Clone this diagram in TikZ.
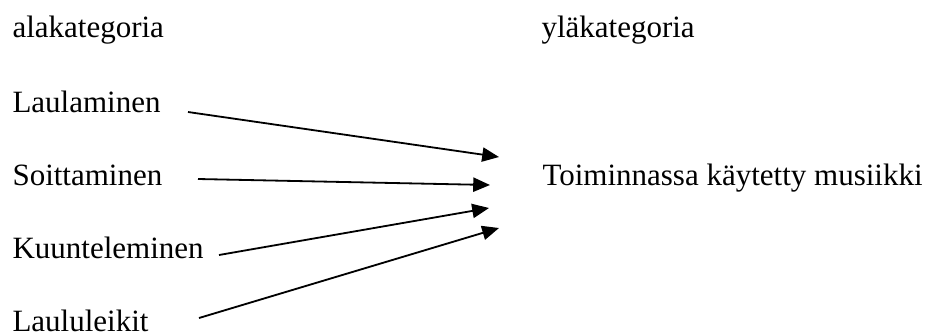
\documentclass[tikz,border=0pt]{standalone}
\usepackage{fontspec}
\setmainfont{Liberation Serif}
\usetikzlibrary{arrows.meta}
\begin{document}
\begin{tikzpicture}[x=0.3871pt,y=-0.3871pt,
lbl/.style={anchor=base west,inner sep=0pt,font=\fontsize{12}{14}\selectfont},
arr/.style={line width=0.7pt,-{Triangle[length=6.5pt,width=5.5pt]}}]
\useasboundingbox (0,0) rectangle (932,334);
\node[lbl] (ala) at (12,37) {alakategoria};
\node[lbl] (yla) at (541,37) {yläkategoria};
\node[lbl] (laul) at (12,112) {Laulaminen};
\node[lbl] (soit) at (12,185) {Soittaminen};
\node[lbl] (kuun) at (12,258) {Kuunteleminen};
\node[lbl] (leik) at (12,331) {Laululeikit};
\node[lbl] (toim) at (542,185) {Toiminnassa käytetty musiikki};
\coordinate (a1) at (188,112);
\coordinate (a2) at (198,179);
\coordinate (a3) at (219,255);
\coordinate (a4) at (199,318);
\coordinate (b1) at (499,157);
\coordinate (b2) at (490,185);
\coordinate (b3) at (489,208);
\coordinate (b4) at (499,228);
\draw[arr] (a1)--(b1);
\draw[arr] (a2)--(b2);
\draw[arr] (a3)--(b3);
\draw[arr] (a4)--(b4);
\end{tikzpicture}
\end{document}
